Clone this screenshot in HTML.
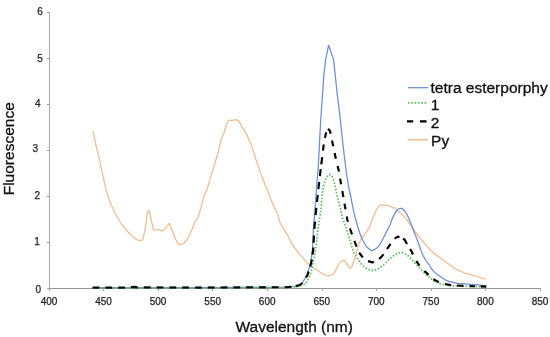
<!DOCTYPE html>
<html><head><meta charset="utf-8"><style>
html,body{margin:0;padding:0;background:#fff;}
svg{display:block;filter:blur(0.35px);}
text{font-family:"Liberation Sans",sans-serif;}
</style></head><body>
<svg width="550" height="337" viewBox="0 0 550 337">
<rect width="550" height="337" fill="#fff"/>
<g stroke="#a2a2a2" stroke-width="1" fill="none" shape-rendering="crispEdges">
<line x1="49.5" y1="12" x2="49.5" y2="288.5" stroke="#a8a8a8"/>
<line x1="49" y1="288.5" x2="540.5" y2="288.5" stroke="#959595"/>
<line x1="46.5" y1="288" x2="49" y2="288"/><line x1="46.5" y1="242" x2="49" y2="242"/><line x1="46.5" y1="196" x2="49" y2="196"/><line x1="46.5" y1="150" x2="49" y2="150"/><line x1="46.5" y1="104" x2="49" y2="104"/><line x1="46.5" y1="58" x2="49" y2="58"/><line x1="46.5" y1="12" x2="49" y2="12"/><line x1="49.0" y1="288" x2="49.0" y2="291"/><line x1="103.5" y1="288" x2="103.5" y2="291"/><line x1="158.0" y1="288" x2="158.0" y2="291"/><line x1="212.5" y1="288" x2="212.5" y2="291"/><line x1="267.0" y1="288" x2="267.0" y2="291"/><line x1="322.0" y1="288" x2="322.0" y2="291"/><line x1="376.5" y1="288" x2="376.5" y2="291"/><line x1="431.0" y1="288" x2="431.0" y2="291"/><line x1="485.5" y1="288" x2="485.5" y2="291"/><line x1="540.0" y1="288" x2="540.0" y2="291"/>
</g>
<g font-size="10" fill="#222" stroke="#222" stroke-width="0.25"><text x="38.25" y="292.5" text-anchor="middle">0</text><text x="37.0" y="244.8" text-anchor="middle">1</text><text x="37.2" y="198.5" text-anchor="middle">2</text><text x="35.3" y="151.6" text-anchor="middle">3</text><text x="37.8" y="106.8" text-anchor="middle">4</text><text x="40.05" y="62" text-anchor="middle">5</text><text x="40.1" y="15.4" text-anchor="middle">6</text><text x="49.0" y="304.6" text-anchor="middle">400</text><text x="103.6" y="304.6" text-anchor="middle">450</text><text x="158.1" y="304.6" text-anchor="middle">500</text><text x="212.7" y="304.6" text-anchor="middle">550</text><text x="267.2" y="304.6" text-anchor="middle">600</text><text x="321.8" y="304.6" text-anchor="middle">650</text><text x="376.3" y="304.6" text-anchor="middle">700</text><text x="430.9" y="304.6" text-anchor="middle">750</text><text x="485.4" y="304.6" text-anchor="middle">800</text><text x="540.0" y="304.6" text-anchor="middle">850</text></g>
<g fill="none" stroke-linejoin="round">
<polyline points="93.0,131.2 94.8,139.3 96.6,148.2 98.9,157.1 101.1,167.9 103.6,178.6 106.0,189.3 108.7,198.7 111.3,205.3 115.3,213.3 119.3,220.6 121.8,224.5 125.6,229.2 129.4,233.5 133.2,236.8 137.0,239.9 139.8,240.6 142.7,239.9 144.6,232.1 146.4,220.7 147.4,211.8 148.3,210.6 149.4,211.3 151.3,220.1 153.2,228.7 154.6,230.1 157.0,229.8 159.4,229.4 160.8,230.6 162.2,231.1 164.1,229.6 166.5,226.8 169.3,223.3 171.2,228.0 173.3,233.4 175.5,238.7 177.6,243.3 179.8,244.6 183.0,243.8 186.2,240.8 189.4,235.0 192.6,228.0 194.7,222.3 197.9,217.3 199.6,212.5 203.7,197.4 207.5,188.0 210.3,178.5 213.2,169.0 216.0,159.5 218.6,150.3 221.1,139.7 224.1,132.3 226.3,124.8 228.5,120.4 232.3,120.4 236.0,119.6 238.9,121.1 241.2,125.6 245.6,132.3 248.6,138.9 251.5,145.6 254.5,154.5 256.1,160.0 260.4,172.3 264.8,184.1 268.5,193.0 271.7,201.9 275.1,209.1 277.5,213.8 278.7,217.4 279.4,221.3 281.7,225.7 284.6,230.4 287.6,235.2 292.6,245.0 299.8,254.6 306.0,261.4 309.6,265.0 313.3,267.8 316.9,270.0 320.5,272.5 324.2,274.7 327.8,275.8 330.7,275.5 333.6,273.6 335.8,270.0 338.0,265.3 340.2,262.0 342.4,260.5 344.5,260.4 346.7,263.6 350.0,268.3 351.6,267.2 353.7,261.3 355.9,254.9 357.4,248.6 359.3,243.0 360.7,239.9 363.5,235.8 366.7,231.5 369.2,227.5 371.2,222.5 373.7,216.0 376.4,210.0 378.3,206.8 380.6,205.0 383.7,205.1 388.4,205.6 391.4,206.8 393.0,208.0 394.9,207.8 396.5,209.5 399.2,212.2 402.0,214.5 405.5,218.0 409.5,223.5 413.0,229.0 416.4,233.5 421.0,239.2 424.5,243.3 429.8,249.3 434.6,253.9 439.9,257.8 446.0,262.3 451.9,266.4 457.8,270.2 463.8,272.6 469.7,274.3 475.6,276.1 481.6,277.9 485.7,279.1" stroke="#f4be96" stroke-width="1.35"/>
<polyline points="92.5,287.6 200.0,287.6 285.0,287.2 294.5,286.4 299.5,285.0 302.5,282.5 304.0,280.0 306.8,275.0 309.0,268.5 310.7,262.0 311.8,255.0 312.4,250.0 313.4,230.0 314.5,215.0 315.7,200.0 317.1,180.0 318.1,170.0 320.6,122.0 322.3,97.0 322.9,89.8 323.8,75.6 325.6,59.6 328.6,45.3 333.6,59.6 335.3,75.6 337.1,93.3 338.6,105.0 340.6,122.0 343.0,145.0 346.0,170.0 348.3,185.0 350.4,195.0 354.0,213.0 355.6,219.0 357.8,226.9 360.0,233.5 362.3,239.5 366.7,247.0 371.4,250.7 374.7,249.6 377.0,248.0 379.5,245.2 383.0,238.7 386.6,231.6 390.2,224.5 392.3,218.6 393.2,216.6 395.3,212.6 396.8,210.2 399.2,208.5 402.0,208.3 404.5,210.7 407.5,215.4 409.8,220.8 412.2,226.7 414.6,233.2 417.4,240.2 419.5,246.3 421.0,250.5 422.9,255.3 426.0,260.7 429.2,265.0 431.4,268.7 434.6,272.4 438.8,275.6 442.0,277.8 446.0,280.2 449.5,281.6 457.7,283.3 467.5,284.1 477.3,284.9 486.3,285.8" stroke="#6b8dd8" stroke-width="1.25"/>
<polyline points="92.5,287.8 200.0,287.8 290.0,287.5 298.0,286.5 301.5,285.5 305.5,284.0 308.6,278.5 310.9,272.6 312.6,265.4 314.1,258.3 316.3,244.0 317.8,230.0 320.7,212.0 322.1,194.7 324.0,184.0 326.5,177.0 329.5,174.6 332.0,176.0 334.5,183.0 336.9,194.7 340.8,210.0 342.2,217.0 346.7,229.8 350.6,242.4 353.6,251.9 357.4,258.5 361.9,264.9 366.6,268.5 371.4,270.6 376.1,269.8 380.0,267.8 385.6,263.0 389.2,259.6 391.9,256.9 397.8,253.0 401.5,252.3 406.7,254.5 411.9,259.7 417.1,265.6 423.0,271.5 429.7,277.5 434.8,281.5 441.3,284.3 449.5,285.6 461.0,286.3 486.3,286.8" stroke="#5cbf5c" stroke-width="1.7" stroke-dasharray="1.6 1.7"/>
<g stroke="#000" stroke-width="2.15"><polyline points="92.6,287.6 99.4,287.6"/><polyline points="105.4,287.6 112.2,287.6"/><polyline points="118.2,287.6 125.0,287.6"/><polyline points="130.9,287.2 131.5,287.1 134.5,286.9 136.8,287.4 137.8,287.4"/><polyline points="143.8,287.4 150.6,287.4"/><polyline points="156.6,287.4 163.4,287.5"/><polyline points="169.4,287.5 176.2,287.5"/><polyline points="182.2,287.5 189.0,287.5"/><polyline points="195.0,287.5 200.0,287.6 201.8,287.5"/><polyline points="207.8,287.5 214.6,287.5"/><polyline points="220.6,287.5 227.4,287.4"/><polyline points="233.4,287.4 240.2,287.4"/><polyline points="246.2,287.4 253.0,287.3"/><polyline points="259.0,287.3 265.8,287.3"/><polyline points="271.8,287.3 278.6,287.2"/><polyline points="284.6,287.2 285.0,287.2 291.3,286.7"/><polyline points="295.8,286.1 299.8,285.0 302.4,283.0"/><polyline points="306.1,277.5 307.5,275.0 308.6,271.7"/><polyline points="310.2,266.6 311.4,262.0 311.8,259.4"/><polyline points="312.5,254.6 313.2,250.0 313.3,247.5"/><polyline points="313.6,242.7 314.0,235.5"/><polyline points="314.4,228.9 315.0,221.7"/><polyline points="315.6,215.1 316.1,210.0 316.3,207.9"/><polyline points="317.0,201.9 317.2,200.0 317.8,194.8"/><polyline points="318.4,189.1 319.2,181.9"/><polyline points="319.9,176.2 320.6,170.0 320.7,169.1"/><polyline points="321.3,164.3 322.2,157.1"/><polyline points="323.0,150.6 323.7,144.5"/><polyline points="325.0,137.9 326.0,133.0 326.3,132.3"/><polyline points="328.1,128.7 330.0,131.0 330.6,133.8"/><polyline points="332.0,140.5 332.4,142.3 333.2,146.2"/><polyline points="334.6,152.9 335.5,157.0 335.9,158.8"/><polyline points="337.6,165.9 338.6,170.0 338.9,171.6"/><polyline points="340.1,178.6 341.1,184.2"/><polyline points="342.3,191.0 343.0,195.0 343.4,197.1"/><polyline points="344.5,203.6 345.5,209.3"/><polyline points="346.7,216.5 347.4,220.0 348.0,221.8"/><polyline points="350.0,228.4 350.4,229.8 352.0,234.3"/><polyline points="354.4,240.8 354.8,242.0 356.5,246.7"/><polyline points="359.1,252.8 360.8,254.8 362.8,257.4"/><polyline points="368.0,261.1 372.6,262.4 373.9,261.8"/><polyline points="379.1,258.9 380.0,258.2 383.0,255.0 383.4,254.3"/><polyline points="387.0,249.0 387.4,248.4 389.5,245.5 390.5,243.9"/><polyline points="394.6,238.6 394.6,238.6 397.8,236.6 399.5,237.0"/><polyline points="403.1,238.6 404.5,239.5 406.7,243.4 407.1,244.0"/><polyline points="410.1,249.0 411.2,250.8 413.0,254.5"/><polyline points="416.3,261.0 416.4,261.2 419.4,265.6"/><polyline points="424.4,271.0 425.0,271.5 427.5,273.8 428.4,275.0"/><polyline points="433.4,279.2 434.8,280.0 438.9,282.1"/><polyline points="445.0,284.0 449.5,284.9 451.1,285.0"/><polyline points="457.0,285.5 461.0,285.8 463.4,285.9"/><polyline points="469.7,286.1 475.0,286.2"/><polyline points="480.6,286.4 486.2,286.6"/></g>
</g>
<g font-size="15.5" fill="#111" stroke="#111" stroke-width="0.3">
<text x="235.5" y="332.3">Wavelength (nm)</text>
<text transform="translate(13.6,195.3) rotate(-90)">Fluorescence</text>
<line x1="408" y1="87.7" x2="428" y2="87.7" stroke="#6b8dd8" stroke-width="1.25"/>
<text x="430.5" y="92.8">tetra esterporphy</text>
<line x1="408" y1="102.8" x2="428" y2="102.8" stroke="#5cbf5c" stroke-width="1.7" stroke-dasharray="1.6 1.7"/>
<text x="430.8" y="110.1">1</text>
<path d="M407 121.4H413.2M420 121.4H426.6" stroke="#000" stroke-width="2.1"/>
<text x="430.8" y="128.2">2</text>
<line x1="407.7" y1="139.7" x2="428" y2="139.7" stroke="#f4be96" stroke-width="1.6"/>
<text x="431.1" y="145.6">Py</text>
</g>
</svg>
</body></html>
